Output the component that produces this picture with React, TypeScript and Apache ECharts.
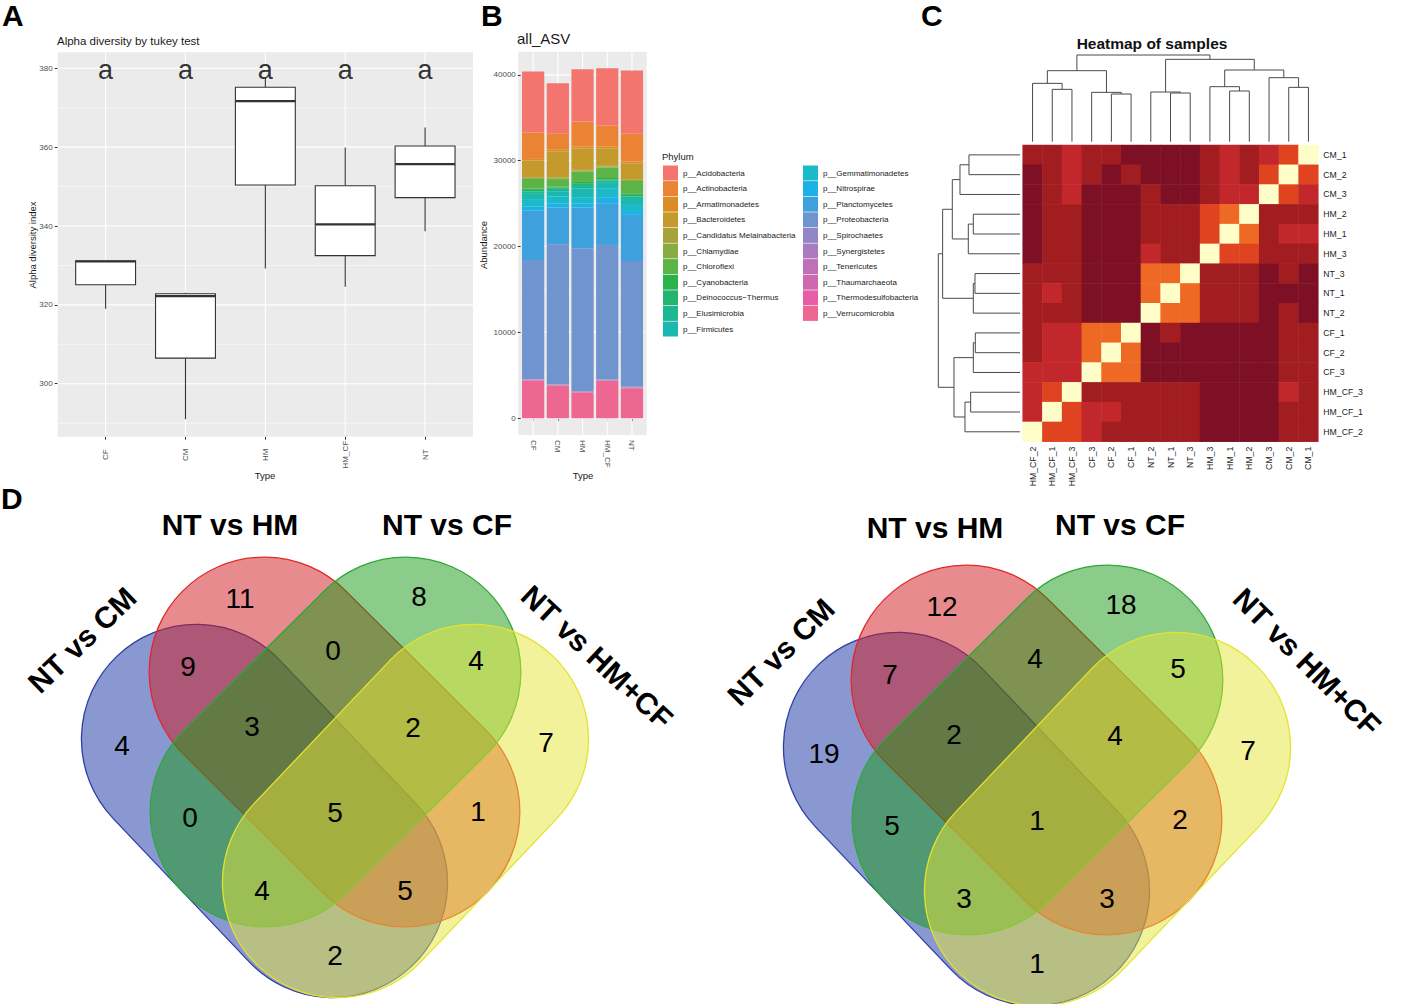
import React, { useEffect, useRef } from 'react';
import * as echarts from 'echarts';

const FONT = '"Liberation Sans", Arial, Helvetica, sans-serif';

// ---------- Panel A: alpha diversity boxplot ----------
const alphaTypes = ['CF', 'CM', 'HM', 'HM_CF', 'NT'];
const alphaLowWhisker = [319.0, 291.0, 329.2, 324.6, 338.7];
const alphaQ1 = [325.1, 306.5, 350.4, 332.5, 347.2];
const alphaMedian = [331.0, 322.2, 371.7, 340.4, 355.7];
const alphaQ3 = [331.2, 322.8, 375.2, 350.2, 360.3];
const alphaHighWhisker = [331.2, 323.1, 377.7, 359.9, 365.0];
const tukeyLetters = ['a', 'a', 'a', 'a', 'a'];
const tukeyLetterY = 379.5;
const alphaTicks = [300, 320, 340, 360, 380];
const alphaMinorTicks = [290, 310, 330, 350, 370];

// ---------- Panel B: stacked abundance ----------
const abundTypes = ['CF', 'CM', 'HM', 'HM_CF', 'NT'];
const phyla = [
  'p__Acidobacteria', 'p__Actinobacteria', 'p__Armatimonadetes', 'p__Bacteroidetes',
  'p__Candidatus Melainabacteria', 'p__Chlamydiae', 'p__Chloroflexi', 'p__Cyanobacteria',
  'p__Deinococcus\u2212Thermus', 'p__Elusimicrobia', 'p__Firmicutes', 'p__Gemmatimonadetes',
  'p__Nitrospirae', 'p__Planctomycetes', 'p__Proteobacteria', 'p__Spirochaetes',
  'p__Synergistetes', 'p__Tenericutes', 'p__Thaumarchaeota', 'p__Thermodesulfobacteria',
  'p__Verrucomicrobia',
];
const phylumColors = [
  '#F4756D', '#EB8335', '#DB8D24', '#C49A2C', '#A8A23A', '#88AC42', '#5CB447', '#2BB24A',
  '#25B46E', '#1EB793', '#19B8B0', '#1ABACB', '#1CB2E6', '#3EA0DC', '#7094CD', '#9287C6',
  '#AA7CBF', '#C070B6', '#CF68AD', '#E85EA6', '#EE6792',
];
const acidobacteria = [7110, 5830, 6100, 6680, 7370];
const actinobacteria = [3070, 1860, 2910, 2450, 3230];
const armatimonadetes = [200, 250, 220, 200, 200];
const bacteroidetes = [1930, 3050, 2500, 2050, 1860];
const candidatus = [80, 70, 80, 80, 80];
const chlamydiae = [120, 110, 120, 120, 120];
const chloroflexi = [1130, 870, 1200, 1210, 1440];
const cyanobacteria = [150, 120, 150, 150, 180];
const deinococcus = [160, 140, 210, 140, 170];
const elusimicrobia = [300, 280, 420, 280, 300];
const firmicutes = [700, 620, 1000, 620, 700];
const gemmatimonadetes = [800, 790, 760, 1050, 710];
const nitrospirae = [450, 500, 450, 700, 450];
const planctomycetes = [5740, 4270, 4730, 4860, 5360];
const proteobacteria = [13890, 16310, 16650, 15680, 14670];
const spirochaetes = [50, 50, 50, 50, 50];
const synergistetes = [20, 20, 20, 20, 20];
const tenericutes = [20, 20, 20, 20, 20];
const thaumarchaeota = [30, 30, 30, 30, 30];
const thermodesulfobacteria = [40, 40, 40, 40, 40];
const verrucomicrobia = [4400, 3800, 3000, 4350, 3500];
const phylumValues = [
  acidobacteria, actinobacteria, armatimonadetes, bacteroidetes, candidatus, chlamydiae,
  chloroflexi, cyanobacteria, deinococcus, elusimicrobia, firmicutes, gemmatimonadetes,
  nitrospirae, planctomycetes, proteobacteria, spirochaetes, synergistetes, tenericutes,
  thaumarchaeota, thermodesulfobacteria, verrucomicrobia,
];
const abundTicks = [0, 10000, 20000, 30000, 40000];
const abundMinorTicks = [5000, 15000, 25000, 35000];

// ---------- Panel C: heatmap of samples ----------
const heatCols = ['HM_CF_2', 'HM_CF_1', 'HM_CF_3', 'CF_3', 'CF_2', 'CF_1', 'NT_2', 'NT_1', 'NT_3', 'HM_3', 'HM_1', 'HM_2', 'CM_3', 'CM_2', 'CM_1'];
const heatRows = ['CM_1', 'CM_2', 'CM_3', 'HM_2', 'HM_1', 'HM_3', 'NT_3', 'NT_1', 'NT_2', 'CF_1', 'CF_2', 'CF_3', 'HM_CF_3', 'HM_CF_1', 'HM_CF_2'];
const heatLevels = [
  [1, 1, 2, 1, 1, 0, 0, 0, 0, 1, 2, 1, 2, 3, 5],
  [0, 1, 2, 1, 0, 1, 0, 0, 0, 1, 2, 1, 3, 5, 3],
  [0, 1, 2, 0, 0, 0, 1, 0, 0, 1, 2, 2, 5, 3, 2],
  [0, 1, 1, 0, 0, 0, 1, 1, 1, 3, 4, 5, 1, 1, 1],
  [0, 1, 1, 0, 0, 0, 1, 1, 1, 3, 5, 4, 1, 2, 2],
  [0, 1, 1, 0, 0, 0, 2, 1, 1, 5, 3, 3, 1, 1, 1],
  [1, 1, 1, 0, 0, 0, 4, 4, 5, 1, 1, 1, 0, 1, 0],
  [1, 2, 1, 0, 0, 0, 4, 5, 4, 1, 1, 1, 0, 0, 0],
  [1, 1, 1, 0, 0, 0, 5, 4, 4, 1, 1, 1, 0, 1, 0],
  [1, 2, 2, 4, 4, 5, 0, 1, 0, 0, 0, 0, 0, 1, 1],
  [1, 2, 2, 4, 5, 4, 0, 0, 0, 0, 0, 0, 0, 1, 1],
  [2, 2, 2, 5, 4, 4, 0, 0, 0, 0, 0, 0, 0, 1, 1],
  [2, 3, 5, 1, 1, 1, 1, 1, 1, 0, 0, 0, 0, 2, 1],
  [2, 5, 3, 2, 2, 1, 1, 1, 1, 0, 0, 0, 0, 1, 1],
  [5, 3, 3, 2, 1, 1, 1, 1, 1, 0, 0, 0, 0, 1, 1],
];
const levelColors = ['#7E1026', '#A21D20', '#C1272B', '#E0431F', '#EE6923', '#FFFDC8'];
// merges: [nodeA, nodeB, height]; leaves 0..14, merge k -> node 15+k
const colMerges = [
  [1, 2, 157], [0, 15, 175], [4, 5, 143], [3, 17, 148], [16, 18, 213], [7, 8, 146], [6, 20, 149],
  [10, 11, 152], [9, 22, 165], [13, 14, 163], [12, 24, 192], [23, 25, 215], [21, 26, 247], [19, 27, 260],
];
const rowMerges = [
  [0, 1, 153], [15, 2, 180], [3, 4, 140], [17, 5, 155], [16, 18, 203], [6, 7, 135], [20, 8, 140],
  [19, 21, 232], [9, 10, 134], [23, 11, 140], [12, 13, 148], [25, 14, 165], [24, 26, 198], [22, 27, 245],
];

// ---------- Panel D: Venn diagrams ----------
const vennSets = ['NT vs CM', 'NT vs HM', 'NT vs CF', 'NT vs HM+CF'];
const vennRegions = ['CM', 'HM', 'CF', 'HMCF', 'CM&HM', 'HM&CF', 'CF&HMCF', 'CM&HM&CF', 'HM&CF&HMCF', 'ALL', 'CM&CF', 'HM&HMCF', 'CM&CF&HMCF', 'CM&HM&HMCF', 'CM&HMCF'];
const vennLeftCounts = [4, 11, 8, 7, 9, 0, 4, 3, 2, 5, 0, 1, 4, 5, 2];
const vennRightCounts = [19, 12, 18, 7, 7, 4, 5, 2, 4, 1, 5, 2, 3, 3, 1];

// layout (pixel positions, not data)
const REGION_POS = [
  [122, 745], [240, 598], [419, 596], [546, 742], [188, 666], [333, 650], [476, 660],
  [252, 726], [413, 727], [335, 812], [190, 817], [478, 811], [262, 890], [405, 890], [335, 955],
];

function dendroSegments(n: number, merges: number[][]) {
  const pos: number[] = [];
  const hts: number[] = [];
  for (let i = 0; i < n; i++) { pos[i] = i; hts[i] = 0; }
  const segs: number[][] = [];
  merges.forEach(([a, b, h], k) => {
    segs.push([pos[a], hts[a], pos[b], hts[b], h]);
    pos[n + k] = (pos[a] + pos[b]) / 2;
    hts[n + k] = h;
  });
  return segs;
}

function txt(text: string, x: number, y: number, size: number, o: any = {}) {
  const align = o.align || 'center';
  return {
    type: 'text', x, y, z: 20, silent: true,
    rotation: ((o.rot || 0) * Math.PI) / 180,
    style: {
      text, fontSize: size, fontFamily: FONT, fontWeight: o.bold ? 'bold' : 'normal',
      fill: o.color || '#000', align, verticalAlign: 'middle', textAlign: align, textVerticalAlign: 'middle',
    },
  };
}

function stadium(cx: number, cy: number, len: number, r: number, deg: number, fill: string, stroke: string) {
  return {
    type: 'rect', x: cx, y: cy, z: 5, silent: true,
    rotation: (deg * Math.PI) / 180,
    shape: { x: -len / 2, y: -r, width: len, height: 2 * r, r },
    style: { fill, stroke, lineWidth: 1.3 },
  };
}

function venn(ox: number, oy: number, counts: number[], labels: any[]) {
  const els: any[] = [];
  const R = 115;
  const L = 428;
  els.push(stadium(264.5 + ox, 811 + oy, L, R, -46.5, 'rgba(21,49,163,0.5)', '#2E3FA6'));
  els.push(stadium(334.5 + ox, 742 + oy, L, R, -44.8, 'rgba(209,23,29,0.5)', '#E0282C'));
  els.push(stadium(335.5 + ox, 742 + oy, L, R, 44.8, 'rgba(23,153,21,0.5)', '#2DA83A'));
  els.push(stadium(405.5 + ox, 811 + oy, L, R, 46.5, 'rgba(229,229,55,0.5)', '#E3E32E'));
  counts.forEach((c, i) => {
    els.push(txt(String(c), REGION_POS[i][0] + ox, REGION_POS[i][1] + oy, 28));
  });
  labels.forEach((l) => els.push(txt(l.text, l.x, l.y, 30, { bold: true, rot: l.rot || 0 })));
  return els;
}

const gridLineRender = (params: any, api: any) => {
  const kind = api.value(0);
  const v = api.value(1);
  const w = api.value(2);
  const cs = params.coordSys;
  const p = api.coord([v, v]);
  if (kind === 0) {
    return { type: 'line', silent: true, shape: { x1: cs.x, y1: p[1], x2: cs.x + cs.width, y2: p[1] }, style: { stroke: '#fff', lineWidth: w } };
  }
  return { type: 'line', silent: true, shape: { x1: p[0], y1: cs.y, x2: p[0], y2: cs.y + cs.height }, style: { stroke: '#fff', lineWidth: w } };
};

function buildOption() {
  const series: any[] = [];

  // A gridlines
  const aGrid = [
    ...alphaTicks.map((v) => [0, v, 1.1]),
    ...alphaMinorTicks.map((v) => [0, v, 0.55]),
    ...alphaTypes.map((_, i) => [1, i + 1, 1.1]),
  ];
  series.push({ type: 'custom', xAxisIndex: 0, yAxisIndex: 0, z: 1, silent: true, renderItem: gridLineRender, data: aGrid });

  // A boxplot
  series.push({
    type: 'custom', xAxisIndex: 0, yAxisIndex: 0, z: 2, silent: true,
    encode: { x: 0, y: [1, 2, 3, 4, 5] },
    data: alphaTypes.map((_, i) => [i + 1, alphaLowWhisker[i], alphaQ1[i], alphaMedian[i], alphaQ3[i], alphaHighWhisker[i]]),
    renderItem: (params: any, api: any) => {
      const x = api.value(0);
      const hw = api.size([0.75, 0])[0] / 2;
      const pLo = api.coord([x, api.value(1)]);
      const pQ1 = api.coord([x, api.value(2)]);
      const pMed = api.coord([x, api.value(3)]);
      const pQ3 = api.coord([x, api.value(4)]);
      const pHi = api.coord([x, api.value(5)]);
      const st = { stroke: '#333333', lineWidth: 1.1 };
      return {
        type: 'group',
        children: [
          { type: 'line', shape: { x1: pLo[0], y1: pLo[1], x2: pQ1[0], y2: pQ1[1] }, style: st },
          { type: 'line', shape: { x1: pQ3[0], y1: pQ3[1], x2: pHi[0], y2: pHi[1] }, style: st },
          { type: 'rect', shape: { x: pQ1[0] - hw, y: pQ3[1], width: 2 * hw, height: pQ1[1] - pQ3[1] }, style: { fill: '#fff', stroke: '#333333', lineWidth: 1.1 } },
          { type: 'line', shape: { x1: pMed[0] - hw, y1: pMed[1], x2: pMed[0] + hw, y2: pMed[1] }, style: { stroke: '#333333', lineWidth: 2.2 } },
        ],
      };
    },
  });

  // A letters
  series.push({
    type: 'scatter', xAxisIndex: 0, yAxisIndex: 0, z: 3, silent: true,
    symbol: 'circle', symbolSize: 1, itemStyle: { color: 'rgba(0,0,0,0)' },
    data: tukeyLetters.map((_, i) => [i + 1, tukeyLetterY]),
    label: { show: true, position: 'inside', formatter: (p: any) => tukeyLetters[p.dataIndex], fontSize: 27, color: '#000', fontFamily: FONT },
  });

  // B gridlines
  const bGrid = [
    ...abundTicks.map((v) => [0, v, 1.1]),
    ...abundMinorTicks.map((v) => [0, v, 0.55]),
    ...abundTypes.map((_, i) => [1, i, 1.1]),
  ];
  series.push({ type: 'custom', xAxisIndex: 1, yAxisIndex: 1, z: 1, silent: true, renderItem: gridLineRender, data: bGrid });

  // B stacked bars (bottom first)
  for (let k = phyla.length - 1; k >= 0; k--) {
    series.push({
      type: 'bar', name: phyla[k], stack: 'abund', xAxisIndex: 1, yAxisIndex: 1, z: 2,
      barCategoryGap: '10%', silent: true,
      itemStyle: { color: phylumColors[k] },
      data: phylumValues[k],
    });
  }

  // C heatmap
  const heatData: number[][] = [];
  heatLevels.forEach((row, r) => row.forEach((lv, c) => heatData.push([c, r, lv])));
  const heatIdx = series.length;
  series.push({ type: 'heatmap', xAxisIndex: 2, yAxisIndex: 2, data: heatData, silent: true, itemStyle: { borderWidth: 0 } });

  // C dendrograms
  series.push({
    type: 'custom', xAxisIndex: 3, yAxisIndex: 3, silent: true,
    encode: { x: [0, 2], y: [1, 3, 4] },
    data: dendroSegments(15, colMerges),
    renderItem: (params: any, api: any) => {
      const xa = api.value(0), ha = api.value(1), xb = api.value(2), hb = api.value(3), h = api.value(4);
      return {
        type: 'polyline',
        shape: { points: [api.coord([xa, ha]), api.coord([xa, h]), api.coord([xb, h]), api.coord([xb, hb])] },
        style: { stroke: '#4a4a4a', lineWidth: 1, fill: 'none' },
      };
    },
  });
  series.push({
    type: 'custom', xAxisIndex: 4, yAxisIndex: 4, silent: true,
    encode: { y: [0, 2], x: [1, 3, 4] },
    data: dendroSegments(15, rowMerges),
    renderItem: (params: any, api: any) => {
      const ya = api.value(0), ha = api.value(1), yb = api.value(2), hb = api.value(3), h = api.value(4);
      return {
        type: 'polyline',
        shape: { points: [api.coord([ha, ya]), api.coord([h, ya]), api.coord([h, yb]), api.coord([hb, yb])] },
        style: { stroke: '#4a4a4a', lineWidth: 1, fill: 'none' },
      };
    },
  });

  const tickStyle = { show: true, length: 3, lineStyle: { color: '#333333', width: 1 } };
  const hidden = { show: false };

  const graphic: any[] = [
    { type: 'rect', z: -1, silent: true, shape: { x: 57.7, y: 52.3, width: 415.3, height: 384.4 }, style: { fill: '#EBEBEB' } },
    { type: 'rect', z: -1, silent: true, shape: { x: 518.3, y: 51.7, width: 128.4, height: 383.3 }, style: { fill: '#EBEBEB' } },
    txt('A', 2, 15, 30, { bold: true, align: 'left' }),
    txt('B', 481, 15, 30, { bold: true, align: 'left' }),
    txt('C', 921, 15, 30, { bold: true, align: 'left' }),
    txt('D', 1, 498, 30, { bold: true, align: 'left' }),
    txt('Alpha diversity by tukey test', 57, 41, 11.5, { align: 'left', color: '#1a1a1a' }),
    txt('Alpha diversity index', 32, 245, 9.5, { rot: 90, color: '#1a1a1a' }),
    txt('Type', 265, 475, 9.5, { color: '#1a1a1a' }),
    txt('all_ASV', 517, 38, 15, { align: 'left', color: '#1a1a1a' }),
    txt('Abundance', 483, 245, 9.5, { rot: 90, color: '#1a1a1a' }),
    txt('Type', 583, 475, 9.5, { color: '#1a1a1a' }),
    txt('Phylum', 662, 156, 9.5, { align: 'left', color: '#1a1a1a' }),
    txt('Heatmap of samples', 1152, 43, 15.5, { bold: true, color: '#111' }),
    ...venn(0, 0, vennLeftCounts, [
      { text: vennSets[0], x: 82, y: 640, rot: 44 },
      { text: vennSets[1], x: 230, y: 524 },
      { text: vennSets[2], x: 447, y: 524 },
      { text: vennSets[3], x: 597, y: 657, rot: -43 },
    ]),
    ...venn(702, 8, vennRightCounts, [
      { text: vennSets[0], x: 781, y: 652, rot: 45 },
      { text: vennSets[1], x: 935, y: 527 },
      { text: vennSets[2], x: 1120, y: 524 },
      { text: vennSets[3], x: 1307, y: 662, rot: -45 },
    ]),
  ];

  const legendText = { fontSize: 8, color: '#1a1a1a', fontFamily: FONT };

  return {
    animation: false,
    textStyle: { fontFamily: FONT },
    grid: [
      { left: 57.7, top: 52.3, width: 415.3, height: 384.4, outerBoundsMode: 'none' },
      { left: 520.8, top: 51.7, width: 123.5, height: 383.3, outerBoundsMode: 'none' },
      { left: 1022.7, top: 145, width: 295.6, height: 296.7, outerBoundsMode: 'none' },
      { left: 1022.7, top: 55, width: 295.6, height: 86.7, outerBoundsMode: 'none' },
      { left: 938.3, top: 145, width: 81.7, height: 296.7, outerBoundsMode: 'none' },
    ],
    xAxis: [
      {
        type: 'value', gridIndex: 0, min: 0.4, max: 5.6,
        axisLine: hidden, splitLine: hidden,
        axisTick: { ...tickStyle, customValues: [1, 2, 3, 4, 5] },
        axisLabel: {
          customValues: [1, 2, 3, 4, 5], formatter: (v: number) => alphaTypes[Math.round(v) - 1] || '',
          rotate: 90, align: 'center', margin: 18, fontSize: 8, color: '#4D4D4D',
        },
      },
      {
        type: 'category', gridIndex: 1, data: abundTypes,
        axisLine: hidden, splitLine: hidden,
        axisTick: { ...tickStyle, alignWithLabel: true },
        axisLabel: { rotate: -90, interval: 0, fontSize: 8, color: '#4D4D4D', margin: 5 },
      },
      {
        type: 'category', gridIndex: 2, data: heatCols,
        axisLine: hidden, axisTick: hidden, splitLine: hidden,
        axisLabel: { rotate: 90, interval: 0, fontSize: 8.7, color: '#1a1a1a', margin: 5 },
      },
      { type: 'value', gridIndex: 3, min: -0.5, max: 14.5, show: false },
      { type: 'value', gridIndex: 4, min: 0, max: 245, inverse: true, show: false },
    ],
    yAxis: [
      {
        type: 'value', gridIndex: 0, min: 286.56, max: 384.06,
        axisLine: hidden, splitLine: hidden,
        axisTick: { ...tickStyle, customValues: alphaTicks },
        axisLabel: { customValues: alphaTicks, fontSize: 8, color: '#4D4D4D', margin: 5 },
      },
      {
        type: 'value', gridIndex: 1, min: -1950, max: 42700,
        axisLine: hidden, splitLine: hidden,
        axisTick: { ...tickStyle, customValues: abundTicks },
        axisLabel: { customValues: abundTicks, formatter: (v: number) => String(Math.round(v)), fontSize: 8, color: '#4D4D4D', margin: 5 },
      },
      {
        type: 'category', gridIndex: 2, data: heatRows, inverse: true, position: 'right',
        axisLine: hidden, axisTick: hidden, splitLine: hidden,
        axisLabel: { interval: 0, fontSize: 8.7, color: '#1a1a1a', margin: 5 },
      },
      { type: 'value', gridIndex: 3, min: 0, max: 260, show: false },
      { type: 'value', gridIndex: 4, min: -0.5, max: 14.5, inverse: true, show: false },
    ],
    legend: [
      {
        data: phyla.slice(0, 11), orient: 'vertical', left: 663, top: 165.5, padding: 0,
        itemWidth: 15, itemHeight: 15, itemGap: 0.6, icon: 'rect', selectedMode: false, textStyle: legendText,
      },
      {
        data: phyla.slice(11), orient: 'vertical', left: 803, top: 165.5, padding: 0,
        itemWidth: 15, itemHeight: 15, itemGap: 0.6, icon: 'rect', selectedMode: false, textStyle: legendText,
      },
    ],
    visualMap: {
      type: 'piecewise', show: false, dimension: 2, seriesIndex: heatIdx,
      pieces: levelColors.map((c, i) => ({ value: i, color: c })),
    },
    graphic,
    series,
  };
}

export default function App() {
  const ref = useRef<HTMLDivElement>(null);
  useEffect(() => {
    const chart = echarts.init(ref.current as HTMLDivElement, null, { renderer: 'svg' });
    chart.setOption(buildOption() as any);
    return () => chart.dispose();
  }, []);
  return (
    <div
      ref={ref}
      style={{ position: 'fixed', left: 0, top: 0, width: 1407, height: 1004, background: '#fff' }}
    />
  );
}
